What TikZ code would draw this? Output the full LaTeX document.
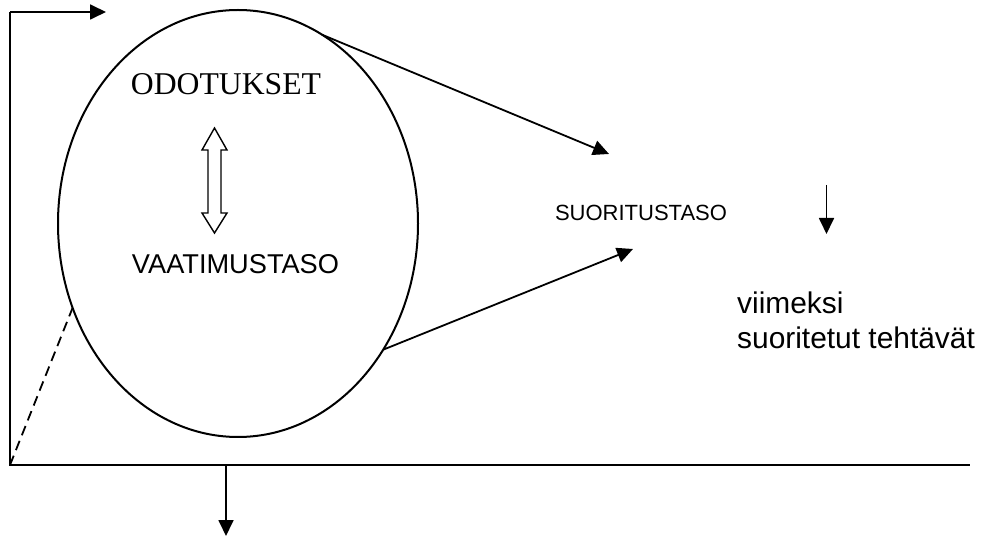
\documentclass[tikz,border=0pt]{standalone}
\usepackage{fontspec}
\setmainfont{Liberation Serif}
\setsansfont{Liberation Sans}
\usetikzlibrary{arrows.meta,shapes.geometric}
\tikzset{
  axisline/.style={line width=2pt},
  arrowline/.style={line width=1.8pt,-{Triangle[length=16pt,width=15pt]}},
  serifcap/.style={inner sep=0pt,font=\fontsize{31.7}{36}\selectfont\rmfamily},
  sanscap/.style={inner sep=0pt,font=\fontsize{27.2}{31}\selectfont\sffamily},
  sanssmall/.style={inner sep=0pt,font=\fontsize{22}{26}\selectfont\sffamily},
  sanslarge/.style={inner sep=0pt,align=left,font=\fontsize{29.9}{35}\selectfont\sffamily},
  dblarrow/.style={line width=1.4pt,fill=white}
}
\begin{document}
\begin{tikzpicture}[x=1pt,y=-1pt]
  \useasboundingbox (0,0) rectangle (989,537);
  % axes
  \coordinate (origin) at (10,465);
  \coordinate (ytop) at (10,12);
  \coordinate (ytip) at (106,12);
  \coordinate (xend) at (970,465);
  \coordinate (dropstart) at (226,465);
  \coordinate (droptip) at (226,536);
  \draw[axisline] (ytop) -- (origin) -- (xend);
  \draw[arrowline] (ytop) -- (ytip);
  \draw[arrowline] (dropstart) -- (droptip);

  % the expectation ellipse
  \node[draw,ellipse,line width=2pt,inner sep=0pt,outer sep=0pt,
        minimum width=360pt,minimum height=427pt] (ell) at (238,223.5) {};
  \draw[line width=1.8pt,dash pattern=on 10pt off 6pt] (origin) -- (ell.207.5);

  % labels inside the ellipse
  \node[serifcap] (odo) at (226,84) {ODOTUKSET};
  \node[sanscap] (vaa) at (235.5,264.5) {VAATIMUSTASO};

  % hollow double-headed arrow between them
  \draw[dblarrow] (214.5,128) -- (227,150) -- (221,150) -- (221,213) -- (227,213)
    -- (214.5,233) -- (202,213) -- (208,213) -- (208,150) -- (202,150) -- cycle;

  % performance level on the right
  \node[sanssmall] (suo) at (641,213) {SUORITUSTASO};
  \coordinate (uptip) at (609,154);
  \coordinate (lowtip) at (633,249);
  \draw[arrowline] (ell.66.2) -- (uptip);
  \draw[arrowline] (ell.-41) -- (lowtip);

  \coordinate (downstart) at (826.5,185);
  \coordinate (downtip) at (826.5,234);
  \draw[arrowline] (downstart) -- (downtip);

  \node[sanslarge,anchor=base west] (vii) at (737,349) {viimeksi\\suoritetut tehtävät};
\end{tikzpicture}
\end{document}
